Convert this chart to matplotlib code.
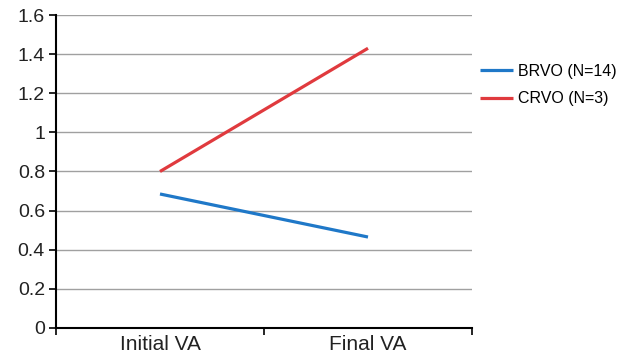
import matplotlib
matplotlib.use("Agg")
import matplotlib.pyplot as plt

# data
categories = ["Initial VA", "Final VA"]
brvo = [0.685, 0.465]
crvo = [0.80, 1.43]
series_labels = ["BRVO (N=14)", "CRVO (N=3)"]
y_ticks = [0, 0.2, 0.4, 0.6, 0.8, 1, 1.2, 1.4, 1.6]
y_tick_labels = ["0", "0.2", "0.4", "0.6", "0.8", "1", "1.2", "1.4", "1.6"]

plt.rcParams["font.family"] = ["Liberation Sans", "DejaVu Sans"]

fig = plt.figure(figsize=(6.27, 3.59), dpi=100)
ax = fig.add_axes([0.0893, 0.0864, 0.6635, 0.8718])

x = list(range(len(categories)))
ax.plot(x, brvo, color="#1f78c8", lw=2.3, label=series_labels[0], solid_capstyle="butt")
ax.plot(x, crvo, color="#e03a3e", lw=2.3, label=series_labels[1], solid_capstyle="butt")

ax.set_xlim(-0.5, 1.5)
ax.set_ylim(0, 1.6)
ax.set_yticks(y_ticks)
ax.set_yticklabels(y_tick_labels, fontsize=14, color="#222222")
ax.set_xticks(x)
ax.set_xticklabels(categories, fontsize=15, color="#222222")
ax.tick_params(axis="x", length=0, pad=5)
ax.set_xticks([-0.5, 0.5, 1.5], minor=True)
ax.tick_params(axis="x", which="minor", length=5, width=1.2, direction="out")
ax.tick_params(axis="y", length=5, width=1.2, direction="out", pad=3)

ax.grid(axis="y", color="#a0a0a0", lw=1)
ax.set_axisbelow(True)
for s in ["top", "right"]:
    ax.spines[s].set_visible(False)
for s in ["left", "bottom"]:
    ax.spines[s].set_linewidth(1.5)
    ax.spines[s].set_color("black")

ax.legend(loc="upper left", bbox_to_anchor=(1.0, 0.87), frameon=False,
          fontsize=11.5, handlelength=2.05, handletextpad=0.3, labelspacing=0.8,
          borderaxespad=0.1)

fig.savefig("out.png", dpi=100)
